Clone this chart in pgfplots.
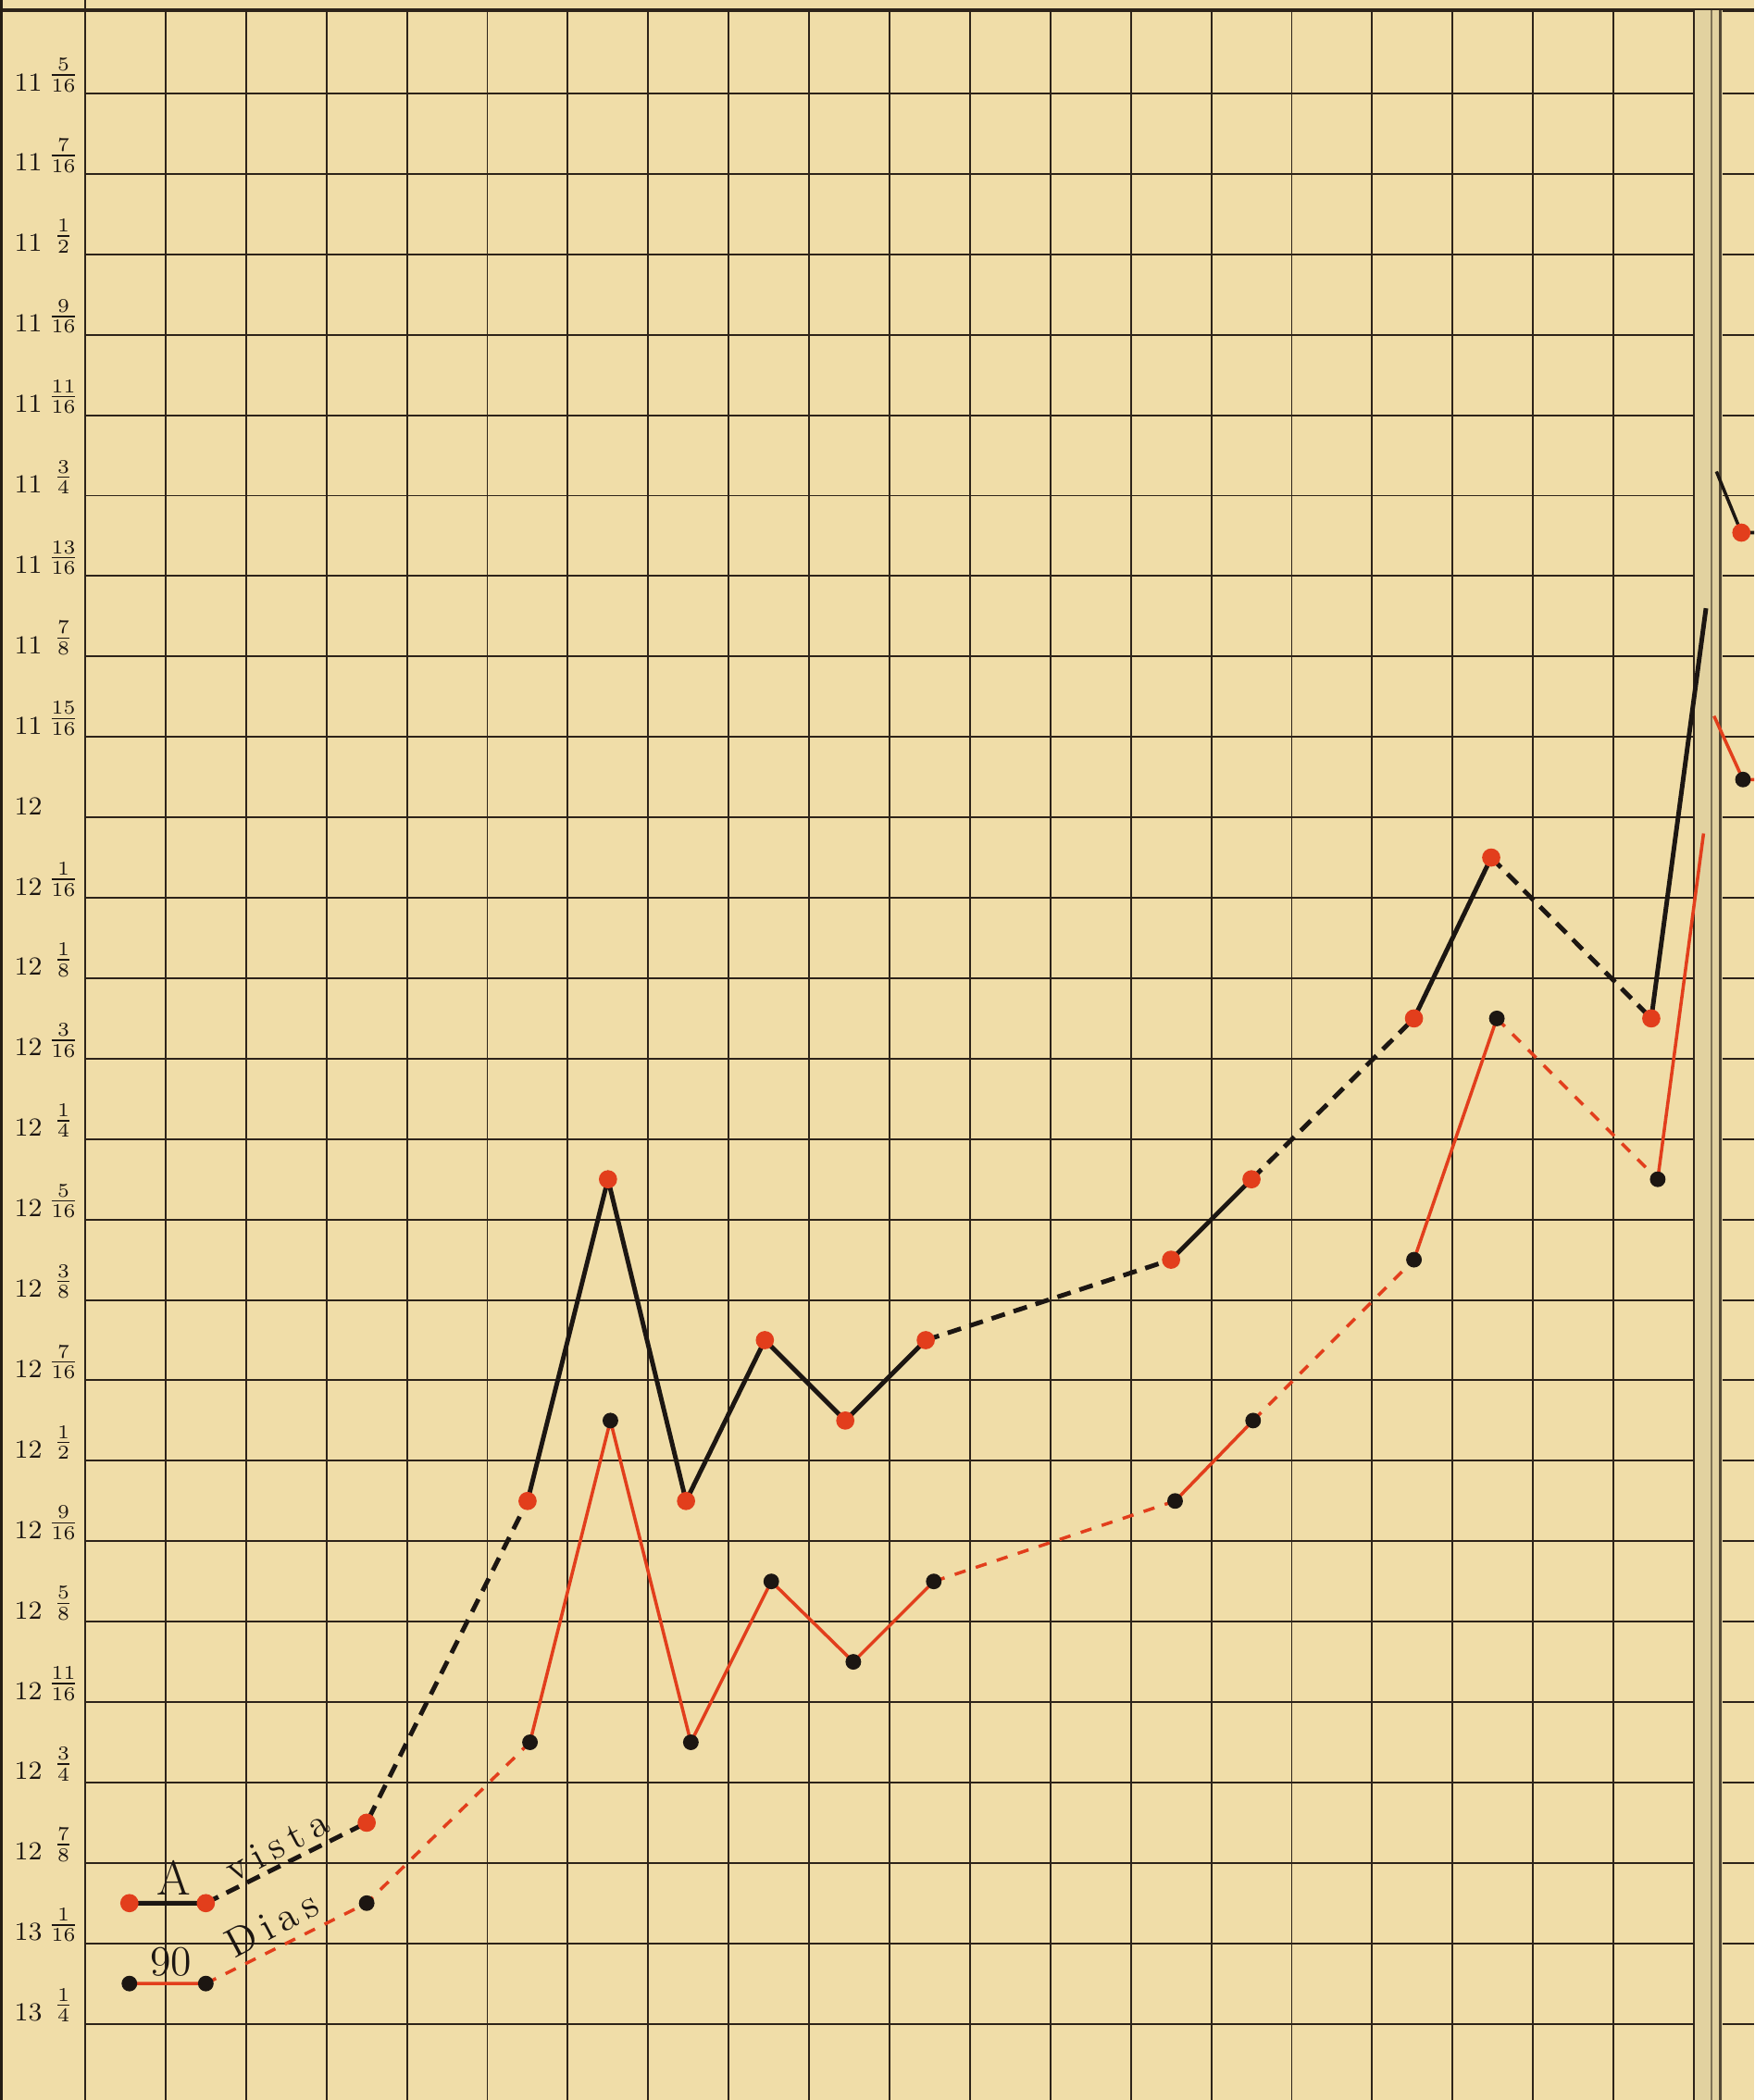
\documentclass[border=0pt]{standalone}
\usepackage{pgfplots}
\pgfplotsset{compat=1.18}
\definecolor{bg}{RGB}{240,221,168}
\definecolor{gridc}{RGB}{45,35,25}
\definecolor{redc}{RGB}{226,62,28}
\definecolor{blk}{RGB}{28,22,18}
\definecolor{gut}{RGB}{226,210,160}
\newcommand{\fr}[2]{\makebox[9.5pt][c]{\raisebox{0.35em}{$\frac{#1}{#2}$}}}
\newcommand{\yl}[3]{#1\hspace{1.8pt}\fr{#2}{#3}}
\begin{document}
\begin{tikzpicture}
\fill[bg] (-0.92,0) rectangle (18.03,22.69);
\begin{axis}[
  at={(0,0)}, anchor=south west,
  scale only axis, width=18.03cm, height=22.58cm,
  xmin=0, xmax=20.748, ymin=-1.036, ymax=24.948, y dir=reverse,
  axis line style={draw=none},
  major tick length=0pt,
  xtick={0,...,20}, xticklabels={},
  xticklabel style={inner sep=0pt, font=\tiny},
  ytick={0,...,24},
  yticklabels={\yl{11}{5}{16},\yl{11}{7}{16},\yl{11}{1}{2},\yl{11}{9}{16},\yl{11}{11}{16},\yl{11}{3}{4},\yl{11}{13}{16},\yl{11}{7}{8},\yl{11}{15}{16},12,\yl{12}{1}{16},\yl{12}{1}{8},\yl{12}{3}{16},\yl{12}{1}{4},\yl{12}{5}{16},\yl{12}{3}{8},\yl{12}{7}{16},\yl{12}{1}{2},\yl{12}{9}{16},\yl{12}{5}{8},\yl{12}{11}{16},\yl{12}{3}{4},\yl{12}{7}{8},\yl{13}{1}{16},\yl{13}{1}{4}},
  yticklabel style={anchor=base west, inner sep=0pt, xshift=-0.77cm, yshift=0.03cm, font=\fontsize{8}{9}\selectfont, text=blk},
  grid=major, grid style={line width=0.55pt, color=gridc},
  unbounded coords=jump,
  clip=false,
]
% frame and gutter
\draw[gridc, line width=0.9pt] (axis cs:-1.059,-1.036) -- (axis cs:20.748,-1.036);
\draw[gridc, line width=0.8pt] (axis cs:0,-1.162) -- (axis cs:0,24.948);
\draw[gridc!80!black, line width=1.1pt] (axis cs:-1.045,-1.162) -- (axis cs:-1.045,24.948);
\fill[gut] (axis cs:20.0,-1.036) rectangle (axis cs:20.36,24.948);
\draw[gridc, line width=0.8pt] (axis cs:20.0,-1.036) -- (axis cs:20.0,24.948);
\draw[gridc!55!gut, line width=0.7pt] (axis cs:20.22,-1.036) -- (axis cs:20.22,24.948);
\draw[gridc!80!gut, line width=0.7pt] (axis cs:20.33,-1.036) -- (axis cs:20.33,24.948);

% A vista (black line, red marks)
\addplot[blk, line width=1.4pt] coordinates {
(0.55,22.5) (1.5,22.5) (nan,nan)
(5.5,17.5) (6.5,13.5) (7.47,17.5) (8.45,15.5) (9.45,16.5) (10.45,15.5) (nan,nan)
(13.5,14.5) (14.5,13.5) (nan,nan)
(16.52,11.5) (17.48,9.5) (nan,nan)
(19.47,11.5) (20.15,6.4)
};
\addplot[blk, line width=1.4pt, dash pattern=on 4.3pt off 2.8pt] coordinates {
(1.5,22.5) (3.5,21.5) (5.5,17.5) (nan,nan)
(10.45,15.5) (13.5,14.5) (nan,nan)
(14.5,13.5) (16.52,11.5) (nan,nan)
(17.48,9.5) (19.47,11.5)
};
% 90 Dias (red line, black marks)
\addplot[redc, line width=1pt] coordinates {
(0.55,23.5) (1.5,23.5) (nan,nan)
(5.53,20.5) (6.53,16.5) (7.53,20.5) (8.53,18.5) (9.55,19.5) (10.55,18.5) (nan,nan)
(13.55,17.5) (14.52,16.5) (nan,nan)
(16.52,14.5) (17.55,11.5) (nan,nan)
(19.55,13.5) (20.12,9.2)
};
\addplot[redc, line width=1pt, dash pattern=on 3.5pt off 3.3pt] coordinates {
(1.5,23.5) (3.5,22.5) (5.53,20.5) (nan,nan)
(10.55,18.5) (13.55,17.5) (nan,nan)
(14.52,16.5) (16.52,14.5) (nan,nan)
(17.55,11.5) (19.55,13.5)
};
% next page fragments
\addplot[blk, line width=1pt] coordinates {(20.28,4.7) (20.59,5.46) (20.748,5.46)};
\addplot[redc, line width=1pt] coordinates {(20.25,7.74) (20.61,8.53) (20.748,8.53)};

% markers
\addplot[only marks, mark=*, mark size=2.6pt, color=redc, fill=redc] coordinates {
(0.55,22.5) (1.5,22.5) (3.5,21.5) (5.5,17.5) (6.5,13.5) (7.47,17.5) (8.45,15.5) (9.45,16.5) (10.45,15.5) (13.5,14.5) (14.5,13.5) (16.52,11.5) (17.48,9.5) (19.47,11.5) (20.59,5.46)
};
\addplot[only marks, mark=*, mark size=2.2pt, color=blk, fill=blk] coordinates {
(0.55,23.5) (1.5,23.5) (3.5,22.5) (5.53,20.5) (6.53,16.5) (7.53,20.5) (8.53,18.5) (9.55,19.5) (10.55,18.5) (13.55,17.5) (14.52,16.5) (16.52,14.5) (17.55,11.5) (19.55,13.5) (20.61,8.53)
};

% labels
\node[anchor=base, inner sep=0pt, font=\fontsize{15}{17}\selectfont, text=blk] at (axis cs:1.1,22.4) {A};
\node[anchor=base west, inner sep=0pt, rotate=28, font=\fontsize{12}{14}\selectfont, text=blk] at (axis cs:1.84,22.25) {v\kern2.4pt i\kern2.4pt s\kern2.4pt t\kern2.4pt a};
\node[anchor=base, inner sep=0pt, font=\fontsize{13}{15}\selectfont, text=blk] at (axis cs:1.07,23.4) {90};
\node[anchor=base west, inner sep=0pt, rotate=28, font=\fontsize{12.5}{14}\selectfont, text=blk] at (axis cs:1.85,23.2) {D\kern2.2pt i\kern2.2pt a\kern2.2pt s};
\end{axis}
\pgfresetboundingbox
\path[use as bounding box] (-0.92,0) rectangle (18.03,22.69);
\end{tikzpicture}
\end{document}
